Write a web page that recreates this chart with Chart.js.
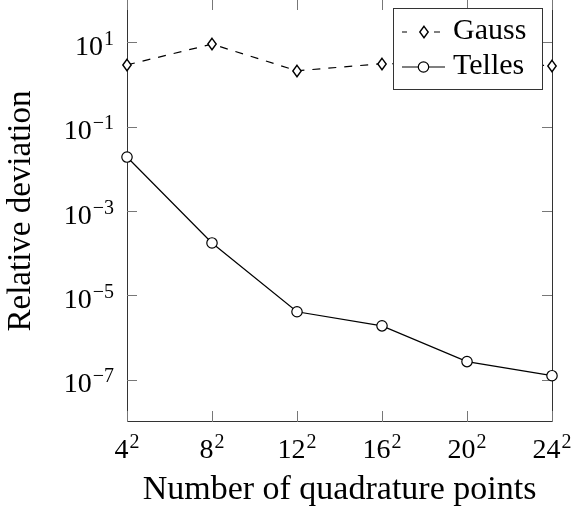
<!DOCTYPE html>
<html><head><meta charset="utf-8">
<script src="https://cdn.jsdelivr.net/npm/chart.js@4.4.1/dist/chart.umd.min.js"></script>
<style>html,body{margin:0;padding:0;background:#fff;overflow:hidden}#wrap{position:relative;width:571px;height:515px}</style>
</head><body><div id="wrap"><canvas id="c" width="571" height="515"></canvas></div>
<script>
const categories = ['4²', '8²', '12²', '16²', '20²', '24²'];
const gaussValues = [2.9, 9.0, 2.1, 3.1, 3.0, 2.8];
const tellesValues = [1.9e-2, 1.75e-4, 4.1e-6, 1.9e-6, 2.7e-7, 1.25e-7];
const yTickValues = [1e-7, 1e-5, 1e-3, 1e-1, 1e1];
const yTickLabels = ['10⁻⁷', '10⁻⁵', '10⁻³', '10⁻¹', '10¹'];
const seriesNames = ['Gauss', 'Telles'];
const xTitle = 'Number of quadrature points';
const yTitle = 'Relative deviation';

const FONT = "'Liberation Serif', 'Times New Roman', serif";
const SUP = {'⁻':'−','⁰':'0','¹':'1','²':'2','³':'3','⁴':'4','⁵':'5','⁶':'6','⁷':'7','⁸':'8','⁹':'9'};
function splitSup(s){
  let base = '', exp = '';
  for (const ch of s) { if (SUP[ch] !== undefined) exp += SUP[ch]; else base += ch; }
  return {base, exp};
}

// narrow diamond marker
const diamond = document.createElement('canvas');
diamond.width = 12; diamond.height = 14;
(function(){
  const g = diamond.getContext('2d');
  g.beginPath();
  g.moveTo(6, 1.3); g.lineTo(10.2, 7); g.lineTo(6, 12.7); g.lineTo(1.8, 7); g.closePath();
  g.fillStyle = '#fff'; g.fill();
  g.strokeStyle = '#000'; g.lineWidth = 1.4; g.stroke();
})();

function drawCircle(ctx, x, y){
  ctx.beginPath(); ctx.arc(x, y, 5.2, 0, Math.PI*2);
  ctx.fillStyle = '#fff'; ctx.fill();
  ctx.strokeStyle = '#000'; ctx.lineWidth = 1.2; ctx.stroke();
}

const framePlugin = {
  id: 'frame',
  beforeDatasetsDraw(chart){
    const {ctx, chartArea: a, scales} = chart;
    ctx.save();
    ctx.strokeStyle = '#333'; ctx.lineWidth = 1;
    ctx.strokeRect(a.left + 0.5, a.top - 0.5, a.right - a.left, a.bottom - a.top);
    ctx.strokeStyle = '#777';
    ctx.beginPath();
    scales.y.ticks.forEach(t => {
      const y = Math.round(scales.y.getPixelForValue(t.value)) + 0.5;
      ctx.moveTo(a.left, y); ctx.lineTo(a.left + 10, y);
      ctx.moveTo(a.right, y); ctx.lineTo(a.right - 10, y);
    });
    categories.forEach((c, i) => {
      const x = Math.round(scales.x.getPixelForValue(i)) + 0.5;
      ctx.moveTo(x, a.bottom); ctx.lineTo(x, a.bottom - 11);
      ctx.moveTo(x, a.top); ctx.lineTo(x, a.top + 10);
    });
    ctx.stroke();
    // tick labels
    ctx.fillStyle = '#000';
    ctx.textBaseline = 'alphabetic';
    ctx.textAlign = 'left';
    scales.y.ticks.forEach((t, i) => {
      const y = scales.y.getPixelForValue(t.value);
      const {base, exp} = splitSup(yTickLabels[i]);
      ctx.font = '20px ' + FONT;
      const ew = ctx.measureText(exp).width;
      ctx.font = '28px ' + FONT;
      const bw = ctx.measureText(base).width;
      const right = a.left - 13;
      ctx.fillText(base, right - ew - bw - 1, y + 12.5);
      ctx.font = '20px ' + FONT;
      ctx.fillText(exp, right - ew, y + 2.5);
    });
    categories.forEach((c, i) => {
      const x = scales.x.getPixelForValue(i);
      const {base, exp} = splitSup(c);
      ctx.font = '20px ' + FONT;
      const ew = ctx.measureText(exp).width;
      ctx.font = '28px ' + FONT;
      const bw = ctx.measureText(base).width;
      const start = x - (bw + ew + 1) / 2;
      ctx.fillText(base, start, a.bottom + 36);
      ctx.font = '20px ' + FONT;
      ctx.fillText(exp, start + bw + 1, a.bottom + 26);
    });
    ctx.restore();
    ctx.imageSmoothingEnabled = false;
  },
  afterDraw(chart){
    const ctx = chart.ctx;
    ctx.save();
    ctx.imageSmoothingEnabled = false;
    const x0 = 393.5, y0 = 8.5, w = 149, h = 81;
    ctx.fillStyle = '#fff'; ctx.fillRect(x0, y0, w, h);
    ctx.strokeStyle = '#333'; ctx.lineWidth = 1; ctx.strokeRect(x0, y0, w, h);
    ctx.strokeStyle = '#000'; ctx.lineWidth = 1.2;
    // Gauss
    let cy = 32;
    ctx.beginPath();
    ctx.moveTo(402, cy); ctx.lineTo(407, cy);
    ctx.moveTo(434, cy); ctx.lineTo(440, cy);
    ctx.stroke();
    ctx.drawImage(diamond, 424 - diamond.width/2, cy - diamond.height/2);
    // Telles
    cy = 67;
    ctx.beginPath(); ctx.moveTo(402, cy); ctx.lineTo(445, cy); ctx.stroke();
    drawCircle(ctx, 423.5, cy);
    ctx.fillStyle = '#000';
    ctx.font = '30px ' + FONT;
    ctx.textBaseline = 'alphabetic';
    ctx.fillText(seriesNames[0], 453, 39);
    ctx.fillText(seriesNames[1], 453, 74);
    ctx.restore();
  }
};

new Chart(document.getElementById('c'), {
  type: 'line',
  data: {
    labels: categories,
    datasets: [
      { label: seriesNames[0], data: gaussValues, borderColor: '#000', borderWidth: 1.2, borderDash: [8, 8],
        pointStyle: diamond, pointRadius: 5, clip: false, tension: 0, fill: false },
      { label: seriesNames[1], data: tellesValues, borderColor: '#000', borderWidth: 1.2,
        pointStyle: 'circle', pointRadius: 5.2, pointBorderWidth: 1.2, pointBackgroundColor: '#fff',
        pointBorderColor: '#000', clip: false, tension: 0, fill: false }
    ]
  },
  options: {
    responsive: false, animation: false, devicePixelRatio: 1, events: [],
    layout: { autoPadding: false, padding: { left: 0, right: 19, top: 0, bottom: 0 } },
    plugins: { legend: { display: false }, tooltip: { enabled: false } },
    scales: {
      x: {
        type: 'category', offset: false,
        grid: { display: false, drawTicks: false }, border: { display: false },
        ticks: { display: false },
        title: { display: true, text: xTitle, color: '#000', font: { family: FONT, size: 34, lineHeight: 1.2 }, padding: { top: 0, bottom: 5 } },
        afterFit: s => { s.height = 93; }
      },
      y: {
        type: 'logarithmic', min: 1e-8, max: 1e2,
        afterBuildTicks: s => { s.ticks = yTickValues.map(v => ({ value: v })); },
        grid: { display: false, drawTicks: false }, border: { display: false },
        ticks: { display: false },
        title: { display: true, text: yTitle, color: '#000', font: { family: FONT, size: 33, lineHeight: 1.2 }, padding: { top: 2, bottom: 0 } },
        afterFit: s => { s.width = 127; }
      }
    }
  },
  plugins: [framePlugin]
});
</script></body></html>
